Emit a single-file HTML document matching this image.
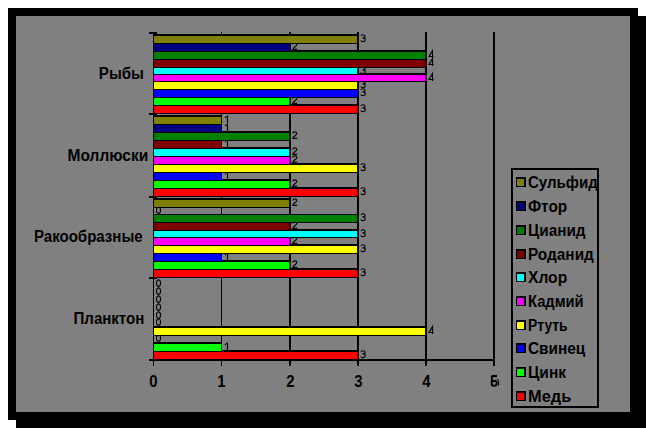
<!DOCTYPE html>
<html><head><meta charset="utf-8"><style>
html,body{margin:0;padding:0;width:646px;height:428px;overflow:hidden;background:#fff;}
#c{position:relative;width:646px;height:428px;}
#c div{position:absolute;}
#c span{position:absolute;white-space:nowrap;font-family:"Liberation Sans",sans-serif;line-height:1;color:#000;}
#c div.cl{font:bold 16px/18px "Liberation Sans",sans-serif;white-space:nowrap;color:#000;transform:scaleX(0.94);transform-origin:100% 0;}
</style></head><body><div id="c">
<div style="left:16px;top:16px;width:630px;height:412px;background:#000;"></div><div style="left:8px;top:8px;width:630px;height:412px;background:#000;"></div><div style="left:16px;top:16px;width:614px;height:396px;background:#808080;"></div><div style="left:153px;top:32px;width:1px;height:334px;background:#000;"></div><div style="left:221px;top:32px;width:1px;height:334px;background:#000;"></div><div style="left:289px;top:32px;width:2px;height:334px;background:#000;"></div><div style="left:357px;top:32px;width:2px;height:334px;background:#000;"></div><div style="left:425px;top:32px;width:2px;height:334px;background:#000;"></div><div style="left:493px;top:32px;width:2px;height:334px;background:#000;"></div><svg width="646" height="428" style="position:absolute;left:0;top:0" fill="none" stroke="#05050c" stroke-width="1.15"><path transform="translate(360.7,34.2) scale(1.05,1.11)" vector-effect="non-scaling-stroke" d="M0.2,1.6 C0.6,0.1 4.1,0.2 4.1,1.8 C4.1,3 2.9,3.3 1.7,3.3 C3.1,3.3 4.4,3.8 4.4,5 C4.4,7.1 0.5,7.2 0.1,5.5"/><path transform="translate(292.7,42.2) scale(1.05,1.11)" vector-effect="non-scaling-stroke" d="M0.1,2 C0.1,0.2 3.9,0.2 3.9,2 C3.9,3.6 0.5,4.6 0.1,6.5 H4.3"/><path transform="translate(428.7,50.2) scale(1.05,1.11)" vector-effect="non-scaling-stroke" d="M3.62,7.1 V0.4 L0.3,5.68 H4.7"/><path transform="translate(428.7,58.2) scale(1.05,1.11)" vector-effect="non-scaling-stroke" d="M3.62,7.1 V0.4 L0.3,5.68 H4.7"/><path transform="translate(360.7,66.2) scale(1.05,1.11)" vector-effect="non-scaling-stroke" d="M0.2,1.6 C0.6,0.1 4.1,0.2 4.1,1.8 C4.1,3 2.9,3.3 1.7,3.3 C3.1,3.3 4.4,3.8 4.4,5 C4.4,7.1 0.5,7.2 0.1,5.5"/><path transform="translate(428.7,73.2) scale(1.05,1.11)" vector-effect="non-scaling-stroke" d="M3.62,7.1 V0.4 L0.3,5.68 H4.7"/><path transform="translate(360.7,80.2) scale(1.05,1.11)" vector-effect="non-scaling-stroke" d="M0.2,1.6 C0.6,0.1 4.1,0.2 4.1,1.8 C4.1,3 2.9,3.3 1.7,3.3 C3.1,3.3 4.4,3.8 4.4,5 C4.4,7.1 0.5,7.2 0.1,5.5"/><path transform="translate(360.7,88.2) scale(1.05,1.11)" vector-effect="non-scaling-stroke" d="M0.2,1.6 C0.6,0.1 4.1,0.2 4.1,1.8 C4.1,3 2.9,3.3 1.7,3.3 C3.1,3.3 4.4,3.8 4.4,5 C4.4,7.1 0.5,7.2 0.1,5.5"/><path transform="translate(292.7,96.2) scale(1.05,1.11)" vector-effect="non-scaling-stroke" d="M0.1,2 C0.1,0.2 3.9,0.2 3.9,2 C3.9,3.6 0.5,4.6 0.1,6.5 H4.3"/><path transform="translate(360.7,104.2) scale(1.05,1.11)" vector-effect="non-scaling-stroke" d="M0.2,1.6 C0.6,0.1 4.1,0.2 4.1,1.8 C4.1,3 2.9,3.3 1.7,3.3 C3.1,3.3 4.4,3.8 4.4,5 C4.4,7.1 0.5,7.2 0.1,5.5"/><path transform="translate(223.7,115.2) scale(1.05,1.11)" vector-effect="non-scaling-stroke" d="M1.2,2.4 L3.62,0.6 M3.62,0.2 V7"/><path transform="translate(223.7,123.2) scale(1.05,1.11)" vector-effect="non-scaling-stroke" d="M1.2,2.4 L3.62,0.6 M3.62,0.2 V7"/><path transform="translate(292.7,131.2) scale(1.05,1.11)" vector-effect="non-scaling-stroke" d="M0.1,2 C0.1,0.2 3.9,0.2 3.9,2 C3.9,3.6 0.5,4.6 0.1,6.5 H4.3"/><path transform="translate(223.7,139.2) scale(1.05,1.11)" vector-effect="non-scaling-stroke" d="M1.2,2.4 L3.62,0.6 M3.62,0.2 V7"/><path transform="translate(292.7,147.2) scale(1.05,1.11)" vector-effect="non-scaling-stroke" d="M0.1,2 C0.1,0.2 3.9,0.2 3.9,2 C3.9,3.6 0.5,4.6 0.1,6.5 H4.3"/><path transform="translate(292.7,155.2) scale(1.05,1.11)" vector-effect="non-scaling-stroke" d="M0.1,2 C0.1,0.2 3.9,0.2 3.9,2 C3.9,3.6 0.5,4.6 0.1,6.5 H4.3"/><path transform="translate(360.7,163.2) scale(1.05,1.11)" vector-effect="non-scaling-stroke" d="M0.2,1.6 C0.6,0.1 4.1,0.2 4.1,1.8 C4.1,3 2.9,3.3 1.7,3.3 C3.1,3.3 4.4,3.8 4.4,5 C4.4,7.1 0.5,7.2 0.1,5.5"/><path transform="translate(223.7,171.2) scale(1.05,1.11)" vector-effect="non-scaling-stroke" d="M1.2,2.4 L3.62,0.6 M3.62,0.2 V7"/><path transform="translate(292.7,179.2) scale(1.05,1.11)" vector-effect="non-scaling-stroke" d="M0.1,2 C0.1,0.2 3.9,0.2 3.9,2 C3.9,3.6 0.5,4.6 0.1,6.5 H4.3"/><path transform="translate(360.7,187.2) scale(1.05,1.11)" vector-effect="non-scaling-stroke" d="M0.2,1.6 C0.6,0.1 4.1,0.2 4.1,1.8 C4.1,3 2.9,3.3 1.7,3.3 C3.1,3.3 4.4,3.8 4.4,5 C4.4,7.1 0.5,7.2 0.1,5.5"/><path transform="translate(292.7,198.2) scale(1.05,1.11)" vector-effect="non-scaling-stroke" d="M0.1,2 C0.1,0.2 3.9,0.2 3.9,2 C3.9,3.6 0.5,4.6 0.1,6.5 H4.3"/><path transform="translate(155.7,206.2) scale(1.05,1.11)" vector-effect="non-scaling-stroke" d="M2.67,0.6 C0.6,0.6 0.77,3.5 0.77,3.5 C0.77,3.5 0.6,6.5 2.67,6.5 C4.74,6.5 4.57,3.5 4.57,3.5 C4.57,3.5 4.74,0.6 2.67,0.6 Z"/><path transform="translate(360.7,213.2) scale(1.05,1.11)" vector-effect="non-scaling-stroke" d="M0.2,1.6 C0.6,0.1 4.1,0.2 4.1,1.8 C4.1,3 2.9,3.3 1.7,3.3 C3.1,3.3 4.4,3.8 4.4,5 C4.4,7.1 0.5,7.2 0.1,5.5"/><path transform="translate(292.7,221.2) scale(1.05,1.11)" vector-effect="non-scaling-stroke" d="M0.1,2 C0.1,0.2 3.9,0.2 3.9,2 C3.9,3.6 0.5,4.6 0.1,6.5 H4.3"/><path transform="translate(360.7,229.2) scale(1.05,1.11)" vector-effect="non-scaling-stroke" d="M0.2,1.6 C0.6,0.1 4.1,0.2 4.1,1.8 C4.1,3 2.9,3.3 1.7,3.3 C3.1,3.3 4.4,3.8 4.4,5 C4.4,7.1 0.5,7.2 0.1,5.5"/><path transform="translate(292.7,236.2) scale(1.05,1.11)" vector-effect="non-scaling-stroke" d="M0.1,2 C0.1,0.2 3.9,0.2 3.9,2 C3.9,3.6 0.5,4.6 0.1,6.5 H4.3"/><path transform="translate(360.7,244.2) scale(1.05,1.11)" vector-effect="non-scaling-stroke" d="M0.2,1.6 C0.6,0.1 4.1,0.2 4.1,1.8 C4.1,3 2.9,3.3 1.7,3.3 C3.1,3.3 4.4,3.8 4.4,5 C4.4,7.1 0.5,7.2 0.1,5.5"/><path transform="translate(223.7,252.2) scale(1.05,1.11)" vector-effect="non-scaling-stroke" d="M1.2,2.4 L3.62,0.6 M3.62,0.2 V7"/><path transform="translate(292.7,260.2) scale(1.05,1.11)" vector-effect="non-scaling-stroke" d="M0.1,2 C0.1,0.2 3.9,0.2 3.9,2 C3.9,3.6 0.5,4.6 0.1,6.5 H4.3"/><path transform="translate(360.7,268.2) scale(1.05,1.11)" vector-effect="non-scaling-stroke" d="M0.2,1.6 C0.6,0.1 4.1,0.2 4.1,1.8 C4.1,3 2.9,3.3 1.7,3.3 C3.1,3.3 4.4,3.8 4.4,5 C4.4,7.1 0.5,7.2 0.1,5.5"/><path transform="translate(155.7,279.2) scale(1.05,1.11)" vector-effect="non-scaling-stroke" d="M2.67,0.6 C0.6,0.6 0.77,3.5 0.77,3.5 C0.77,3.5 0.6,6.5 2.67,6.5 C4.74,6.5 4.57,3.5 4.57,3.5 C4.57,3.5 4.74,0.6 2.67,0.6 Z"/><path transform="translate(155.7,287.2) scale(1.05,1.11)" vector-effect="non-scaling-stroke" d="M2.67,0.6 C0.6,0.6 0.77,3.5 0.77,3.5 C0.77,3.5 0.6,6.5 2.67,6.5 C4.74,6.5 4.57,3.5 4.57,3.5 C4.57,3.5 4.74,0.6 2.67,0.6 Z"/><path transform="translate(155.7,295.2) scale(1.05,1.11)" vector-effect="non-scaling-stroke" d="M2.67,0.6 C0.6,0.6 0.77,3.5 0.77,3.5 C0.77,3.5 0.6,6.5 2.67,6.5 C4.74,6.5 4.57,3.5 4.57,3.5 C4.57,3.5 4.74,0.6 2.67,0.6 Z"/><path transform="translate(155.7,303.2) scale(1.05,1.11)" vector-effect="non-scaling-stroke" d="M2.67,0.6 C0.6,0.6 0.77,3.5 0.77,3.5 C0.77,3.5 0.6,6.5 2.67,6.5 C4.74,6.5 4.57,3.5 4.57,3.5 C4.57,3.5 4.74,0.6 2.67,0.6 Z"/><path transform="translate(155.7,311.2) scale(1.05,1.11)" vector-effect="non-scaling-stroke" d="M2.67,0.6 C0.6,0.6 0.77,3.5 0.77,3.5 C0.77,3.5 0.6,6.5 2.67,6.5 C4.74,6.5 4.57,3.5 4.57,3.5 C4.57,3.5 4.74,0.6 2.67,0.6 Z"/><path transform="translate(155.7,318.2) scale(1.05,1.11)" vector-effect="non-scaling-stroke" d="M2.67,0.6 C0.6,0.6 0.77,3.5 0.77,3.5 C0.77,3.5 0.6,6.5 2.67,6.5 C4.74,6.5 4.57,3.5 4.57,3.5 C4.57,3.5 4.74,0.6 2.67,0.6 Z"/><path transform="translate(428.7,326.2) scale(1.05,1.11)" vector-effect="non-scaling-stroke" d="M3.62,7.1 V0.4 L0.3,5.68 H4.7"/><path transform="translate(155.7,334.2) scale(1.05,1.11)" vector-effect="non-scaling-stroke" d="M2.67,0.6 C0.6,0.6 0.77,3.5 0.77,3.5 C0.77,3.5 0.6,6.5 2.67,6.5 C4.74,6.5 4.57,3.5 4.57,3.5 C4.57,3.5 4.74,0.6 2.67,0.6 Z"/><path transform="translate(223.7,342.2) scale(1.05,1.11)" vector-effect="non-scaling-stroke" d="M1.2,2.4 L3.62,0.6 M3.62,0.2 V7"/><path transform="translate(360.7,350.2) scale(1.05,1.11)" vector-effect="non-scaling-stroke" d="M0.2,1.6 C0.6,0.1 4.1,0.2 4.1,1.8 C4.1,3 2.9,3.3 1.7,3.3 C3.1,3.3 4.4,3.8 4.4,5 C4.4,7.1 0.5,7.2 0.1,5.5"/></svg><div style="left:153px;top:34px;width:206px;height:10px;background:#000;"></div><div style="left:153px;top:42px;width:138px;height:10px;background:#000;"></div><div style="left:153px;top:50px;width:274px;height:10px;background:#000;"></div><div style="left:153px;top:58px;width:274px;height:10px;background:#000;"></div><div style="left:153px;top:66px;width:206px;height:9px;background:#000;"></div><div style="left:153px;top:73px;width:274px;height:9px;background:#000;"></div><div style="left:153px;top:80px;width:206px;height:10px;background:#000;"></div><div style="left:153px;top:88px;width:206px;height:10px;background:#000;"></div><div style="left:153px;top:96px;width:138px;height:10px;background:#000;"></div><div style="left:153px;top:104px;width:206px;height:10px;background:#000;"></div><div style="left:153px;top:115px;width:69px;height:10px;background:#000;"></div><div style="left:153px;top:123px;width:69px;height:10px;background:#000;"></div><div style="left:153px;top:131px;width:138px;height:10px;background:#000;"></div><div style="left:153px;top:139px;width:69px;height:10px;background:#000;"></div><div style="left:153px;top:147px;width:138px;height:10px;background:#000;"></div><div style="left:153px;top:155px;width:138px;height:10px;background:#000;"></div><div style="left:153px;top:163px;width:206px;height:10px;background:#000;"></div><div style="left:153px;top:171px;width:69px;height:10px;background:#000;"></div><div style="left:153px;top:179px;width:138px;height:10px;background:#000;"></div><div style="left:153px;top:187px;width:206px;height:10px;background:#000;"></div><div style="left:153px;top:198px;width:138px;height:10px;background:#000;"></div><div style="left:153px;top:214px;width:206px;height:9px;background:#000;"></div><div style="left:153px;top:221px;width:138px;height:10px;background:#000;"></div><div style="left:153px;top:229px;width:206px;height:9px;background:#000;"></div><div style="left:153px;top:236px;width:138px;height:10px;background:#000;"></div><div style="left:153px;top:244px;width:206px;height:10px;background:#000;"></div><div style="left:153px;top:252px;width:69px;height:10px;background:#000;"></div><div style="left:153px;top:260px;width:138px;height:10px;background:#000;"></div><div style="left:153px;top:268px;width:206px;height:10px;background:#000;"></div><div style="left:153px;top:326px;width:274px;height:10px;background:#000;"></div><div style="left:153px;top:342px;width:69px;height:10px;background:#000;"></div><div style="left:153px;top:350px;width:206px;height:10px;background:#000;"></div><div style="left:154px;top:36px;width:203px;height:7px;background:#808000;"></div><div style="left:154px;top:44px;width:135px;height:7px;background:#000080;"></div><div style="left:154px;top:52px;width:271px;height:7px;background:#008000;"></div><div style="left:154px;top:60px;width:271px;height:7px;background:#800000;"></div><div style="left:154px;top:68px;width:203px;height:6px;background:#00ffff;"></div><div style="left:154px;top:75px;width:271px;height:6px;background:#ff00ff;"></div><div style="left:154px;top:82px;width:203px;height:7px;background:#ffff00;"></div><div style="left:154px;top:90px;width:203px;height:7px;background:#0000ff;"></div><div style="left:154px;top:98px;width:135px;height:7px;background:#00ff00;"></div><div style="left:154px;top:106px;width:203px;height:7px;background:#ff0000;"></div><div style="left:154px;top:117px;width:67px;height:7px;background:#808000;"></div><div style="left:154px;top:125px;width:67px;height:7px;background:#000080;"></div><div style="left:154px;top:133px;width:135px;height:7px;background:#008000;"></div><div style="left:154px;top:141px;width:67px;height:7px;background:#800000;"></div><div style="left:154px;top:149px;width:135px;height:7px;background:#00ffff;"></div><div style="left:154px;top:157px;width:135px;height:7px;background:#ff00ff;"></div><div style="left:154px;top:165px;width:203px;height:7px;background:#ffff00;"></div><div style="left:154px;top:173px;width:67px;height:7px;background:#0000ff;"></div><div style="left:154px;top:181px;width:135px;height:7px;background:#00ff00;"></div><div style="left:154px;top:189px;width:203px;height:7px;background:#ff0000;"></div><div style="left:154px;top:200px;width:135px;height:7px;background:#808000;"></div><div style="left:154px;top:215px;width:203px;height:7px;background:#008000;"></div><div style="left:154px;top:223px;width:135px;height:7px;background:#800000;"></div><div style="left:154px;top:231px;width:203px;height:6px;background:#00ffff;"></div><div style="left:154px;top:238px;width:135px;height:7px;background:#ff00ff;"></div><div style="left:154px;top:246px;width:203px;height:7px;background:#ffff00;"></div><div style="left:154px;top:254px;width:67px;height:7px;background:#0000ff;"></div><div style="left:154px;top:262px;width:135px;height:7px;background:#00ff00;"></div><div style="left:154px;top:270px;width:203px;height:7px;background:#ff0000;"></div><div style="left:154px;top:328px;width:271px;height:7px;background:#ffff00;"></div><div style="left:154px;top:344px;width:67px;height:7px;background:#00ff00;"></div><div style="left:154px;top:352px;width:203px;height:7px;background:#ff0000;"></div><div style="left:149px;top:359px;width:346px;height:2px;background:#000;"></div><div style="left:149px;top:32px;width:8px;height:2px;background:#000;"></div><div style="left:149px;top:113px;width:8px;height:2px;background:#000;"></div><div style="left:149px;top:196px;width:8px;height:2px;background:#000;"></div><div style="left:149px;top:277px;width:8px;height:2px;background:#000;"></div><div class="cl" style="right:502.5px;top:65px;transform:scaleX(0.94)">Рыбы</div><div class="cl" style="right:497.5px;top:147px;transform:scaleX(0.97)">Моллюски</div><div class="cl" style="right:503px;top:227.5px;transform:scaleX(0.94)">Ракообразные</div><div class="cl" style="right:502px;top:310px;transform:scaleX(0.94)">Планктон</div><div style="left:511px;top:168px;width:88px;height:240px;background:#000;"></div><div style="left:513px;top:170px;width:84px;height:236px;background:#808080;"></div><div style="left:516px;top:177px;width:10px;height:10px;background:#000;"></div><div style="left:517px;top:179px;width:7px;height:7px;background:#808000;"></div><div style="left:516px;top:201px;width:10px;height:10px;background:#000;"></div><div style="left:517px;top:203px;width:7px;height:7px;background:#000080;"></div><div style="left:516px;top:225px;width:10px;height:10px;background:#000;"></div><div style="left:517px;top:227px;width:7px;height:7px;background:#008000;"></div><div style="left:516px;top:249px;width:10px;height:10px;background:#000;"></div><div style="left:517px;top:251px;width:7px;height:7px;background:#800000;"></div><div style="left:516px;top:272px;width:10px;height:10px;background:#000;"></div><div style="left:517px;top:274px;width:7px;height:7px;background:#00ffff;"></div><div style="left:516px;top:296px;width:10px;height:10px;background:#000;"></div><div style="left:517px;top:298px;width:7px;height:7px;background:#ff00ff;"></div><div style="left:516px;top:320px;width:10px;height:10px;background:#000;"></div><div style="left:517px;top:322px;width:7px;height:7px;background:#ffff00;"></div><div style="left:516px;top:343px;width:10px;height:10px;background:#000;"></div><div style="left:517px;top:345px;width:7px;height:7px;background:#0000ff;"></div><div style="left:516px;top:367px;width:10px;height:10px;background:#000;"></div><div style="left:517px;top:369px;width:7px;height:7px;background:#00ff00;"></div><div style="left:516px;top:391px;width:10px;height:10px;background:#000;"></div><div style="left:517px;top:393px;width:7px;height:7px;background:#ff0000;"></div>
<span style="left:149.05px;top:373.5px;font-weight:bold;font-size:16px;transform:scaleX(0.93);transform-origin:50% 0;">0</span><span style="left:217.05px;top:373.5px;font-weight:bold;font-size:16px;transform:scaleX(0.93);transform-origin:50% 0;">1</span><span style="left:285.55px;top:373.5px;font-weight:bold;font-size:16px;transform:scaleX(0.93);transform-origin:50% 0;">2</span><span style="left:353.55px;top:373.5px;font-weight:bold;font-size:16px;transform:scaleX(0.93);transform-origin:50% 0;">3</span><span style="left:421.55px;top:373.5px;font-weight:bold;font-size:16px;transform:scaleX(0.93);transform-origin:50% 0;">4</span><span style="left:528.2px;top:174.5px;font-weight:bold;font-size:16px;transform:scaleX(0.9400);transform-origin:0 0;">Сульфид</span><span style="left:528.2px;top:198.5px;font-weight:bold;font-size:16px;transform:scaleX(0.9607);transform-origin:0 0;">Фтор</span><span style="left:528.2px;top:222.5px;font-weight:bold;font-size:16px;transform:scaleX(0.9588);transform-origin:0 0;">Цианид</span><span style="left:528.2px;top:246.5px;font-weight:bold;font-size:16px;transform:scaleX(0.9607);transform-origin:0 0;">Роданид</span><span style="left:528.2px;top:269.5px;font-weight:bold;font-size:16px;transform:scaleX(0.9757);transform-origin:0 0;">Хлор</span><span style="left:528.2px;top:293.5px;font-weight:bold;font-size:16px;transform:scaleX(0.9193);transform-origin:0 0;">Кадмий</span><span style="left:528.2px;top:317.5px;font-weight:bold;font-size:16px;transform:scaleX(0.8667);transform-origin:0 0;">Ртуть</span><span style="left:528.2px;top:340.5px;font-weight:bold;font-size:16px;transform:scaleX(0.9588);transform-origin:0 0;">Свинец</span><span style="left:528.2px;top:364.5px;font-weight:bold;font-size:16px;transform:scaleX(0.9710);transform-origin:0 0;">Цинк</span><span style="left:528.2px;top:388.5px;font-weight:bold;font-size:16px;transform:scaleX(1.0237);transform-origin:0 0;">Медь</span>
<svg width="646" height="428" style="position:absolute;left:0;top:0" fill="none"><g stroke="#000"><path d="M491.5,376 H497" stroke-width="2.2"/><path d="M491.8,376 V383" stroke-width="1.8"/><circle cx="494.2" cy="383.3" r="2.6" stroke-width="1.9"/><path d="M498.5,380.5 V385.5" stroke-width="1.3"/></g><rect x="497" y="379" width="1.3" height="1.3" fill="#000" stroke="none"/></svg>
</div></body></html>
